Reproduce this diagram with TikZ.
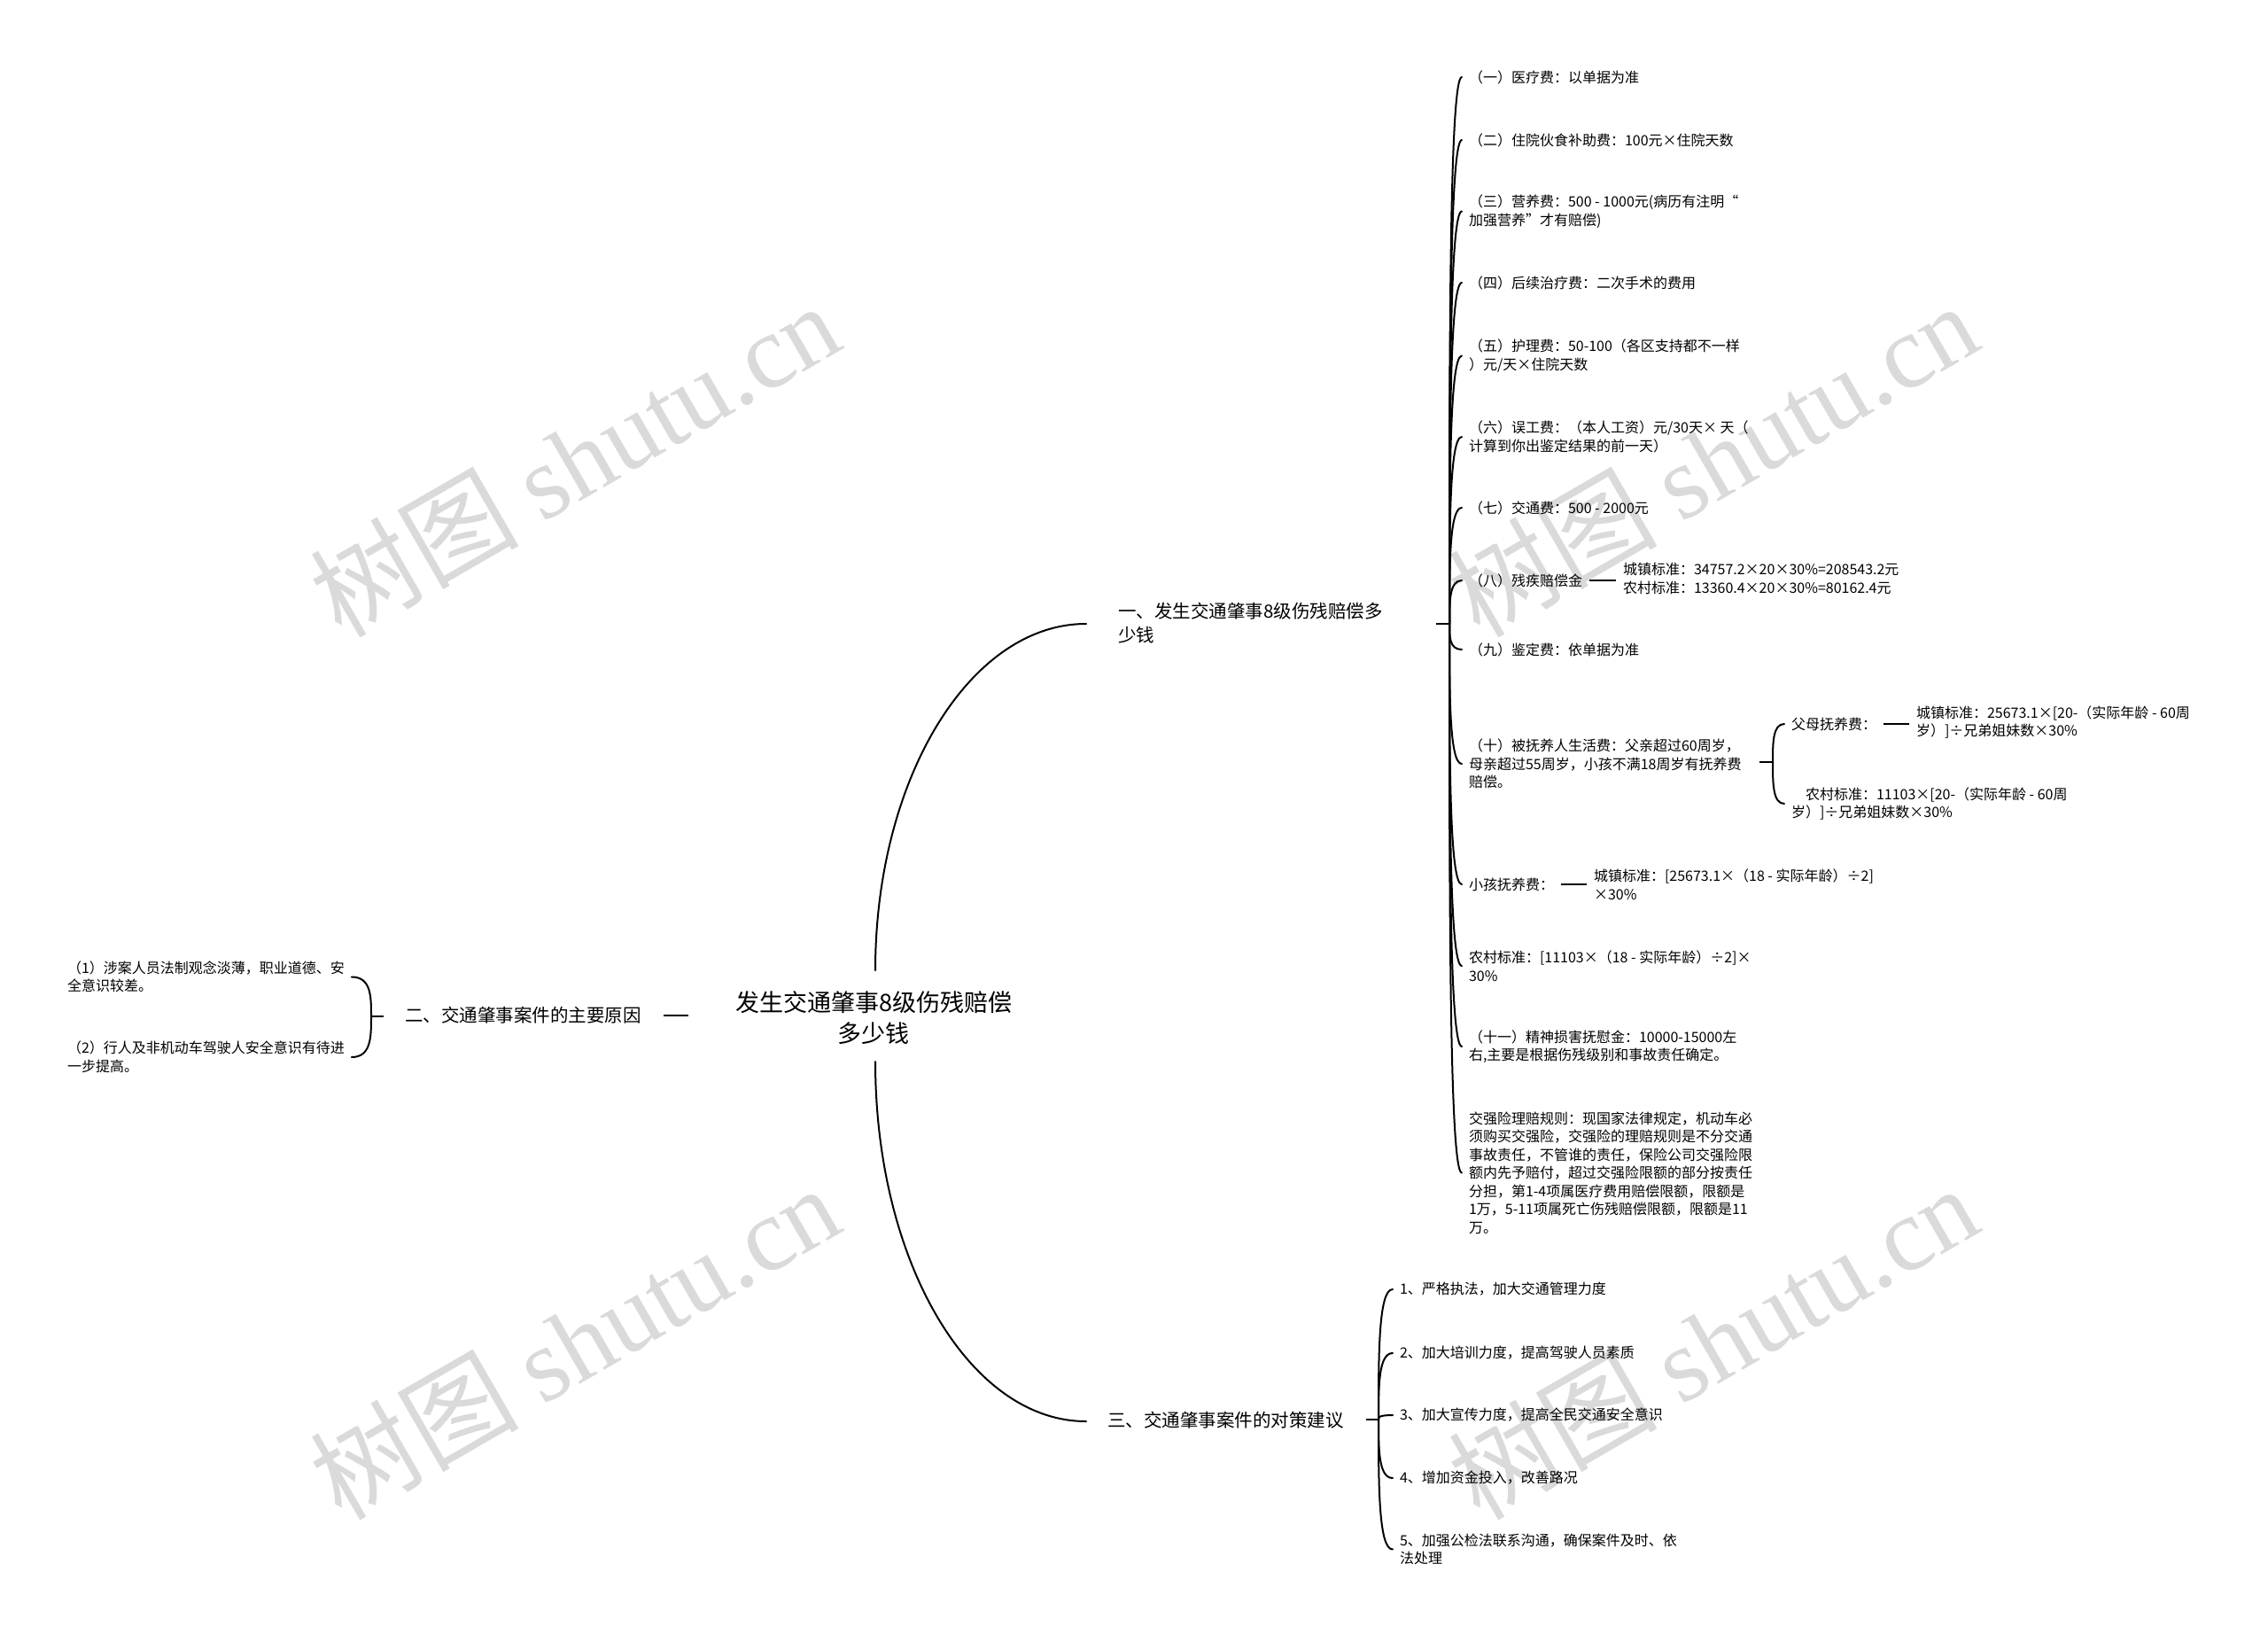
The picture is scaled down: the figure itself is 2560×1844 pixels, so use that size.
\documentclass[tikz,border=0pt]{standalone}
\usepackage{fontspec}
\setmainfont{Noto Sans CJK SC}
\newfontfamily\wmcjk{Noto Sans CJK SC}
\newfontfamily\wmserif{Liberation Serif}
\usetikzlibrary{calc}
\definecolor{wmgray}{RGB}{218,218,218}
\begin{document}
\begin{tikzpicture}[x=1pt,y=-1pt,
  leaf/.style={anchor=west, inner sep=0pt, outer xsep=8pt, outer ysep=0pt, align=left, font=\fontsize{16}{20.5}\selectfont},
  leafL/.style={leaf, anchor=west},
  brn/.style={anchor=west, inner sep=0pt, align=left, font=\fontsize{20.5}{27}\selectfont},
  root/.style={inner sep=0pt, align=center, font=\fontsize{27}{35}\selectfont},
  conn/.style={line width=2pt, line cap=round},
  tick/.style={line width=2.6pt},
  hk/.style={conn, to path={.. controls ($(\tikztostart)!0.5!(\tikztostart |- \tikztotarget)$) and (\tikztostart |- \tikztotarget) .. (\tikztotarget)}},
  wm/.style={rotate=30, text=wmgray, inner sep=0pt, font=\fontsize{118}{118}\selectfont}
]
\useasboundingbox (0,0) rectangle (2560,1844);
\fill[white] (0,0) rectangle (2560,1844);

% watermarks
\node[wm] (w1) at (648,518) {{\wmcjk 树图} {\wmserif shutu.cn}};
\node[wm] (w2) at (1933,518) {{\wmcjk 树图} {\wmserif shutu.cn}};
\node[wm] (w3) at (648,1514) {{\wmcjk 树图} {\wmserif shutu.cn}};
\node[wm] (w4) at (1933,1514) {{\wmcjk 树图} {\wmserif shutu.cn}};

% root and branches
\node[root] (c) at (986,1148.5) {发生交通肇事8级伤残赔偿\\多少钱};
\node[brn] (b1) at (1262,703.5) {一、发生交通肇事8级伤残赔偿多\\少钱};
\node[brn] (b2) at (457,1146) {二、交通肇事案件的主要原因};
\node[brn] (b3) at (1250,1603) {三、交通肇事案件的对策建议};

\coordinate (cT) at (988,1095);
\coordinate (cB) at (988,1198);
\coordinate (cL) at (777,1146);
\coordinate (b1L) at (1226,704);
\coordinate (b3L) at (1226,1604);
\coordinate (b2R) at (749,1146);
\draw[conn] (cT) .. controls (988,880) and (1094,704) .. (b1L);
\draw[conn] (cB) .. controls (988,1423) and (1094,1604) .. (b3L);
\draw[tick] (cL) -- (b2R);

% branch 1 children
\node[leaf] (n1) at (1650,87) {（一）医疗费：以单据为准};
\node[leaf] (n2) at (1650,158) {（二）住院伙食补助费：100元×住院天数};
\node[leaf] (n3) at (1650,238.5) {（三）营养费：500 - 1000元(病历有注明“\\加强营养”才有赔偿)};
\node[leaf] (n4) at (1650,319) {（四）后续治疗费：二次手术的费用};
\node[leaf] (n5) at (1650,401.5) {（五）护理费：50-100（各区支持都不一样\\）元/天×住院天数};
\node[leaf] (n6) at (1650,493) {（六）误工费：（本人工资）元/30天× 天（\\计算到你出鉴定结果的前一天）};
\node[leaf] (n7) at (1650,573) {（七）交通费：500 - 2000元};
\node[leaf] (n8) at (1650,655) {（八）残疾赔偿金};
\node[leaf] (n9) at (1650,733) {（九）鉴定费：依单据为准};
\node[leaf] (n10) at (1650,862) {（十）被抚养人生活费：父亲超过60周岁，\\母亲超过55周岁，小孩不满18周岁有抚养费\\赔偿。};
\node[leaf] (nk) at (1650,998) {小孩抚养费：};
\node[leaf] (nr) at (1650,1090) {农村标准：[11103×（18 - 实际年龄）÷2]×\\30\%};
\node[leaf] (n11) at (1650,1181) {（十一）精神损害抚慰金：10000-15000左\\右,主要是根据伤残级别和事故责任确定。};
\node[leaf] (nj) at (1650,1323.5) {交强险理赔规则：现国家法律规定，机动车必\\须购买交强险，交强险的理赔规则是不分交通\\事故责任，不管谁的责任，保险公司交强险限\\额内先予赔付，超过交强险限额的部分按责任\\分担，第1-4项属医疗费用赔偿限额，限额是\\1万，5-11项属死亡伤残赔偿限额，限额是11\\万。};

\coordinate (b1R) at (1621,704);
\coordinate (s1) at (1636,704);
\draw[tick] (b1R) -- (s1);
\foreach \n in {n1,n2,n3,n4,n5,n6,n7,n8,n9,n10,nk,nr,n11,nj}
  \draw[hk] (s1) to (\n.west);

% (八) child
\node[leaf] (n8c) at (1824,653) {城镇标准：34757.2×20×30\%=208543.2元\\农村标准：13360.4×20×30\%=80162.4元};
\draw[tick] (n8.east) -- (n8.east -| n8c.west);

% (十) children
\node[leaf] (n10a) at (2014,817) {父母抚养费：};
\node[leaf] (n10b) at (2014,907) {\hspace*{16pt}农村标准：11103×[20-（实际年龄 - 60周\\岁）]÷兄弟姐妹数×30\%};
\node[leaf] (n10ac) at (2155,815) {城镇标准：25673.1×[20-（实际年龄 - 60周\\岁）]÷兄弟姐妹数×30\%};
\coordinate (n10R) at (1986,860);
\coordinate (s10) at (2001,860);
\draw[tick] (n10R) -- (s10);
\draw[hk] (s10) to (n10a.west);
\draw[hk] (s10) to (n10b.west);
\draw[tick] (n10a.east) -- (n10a.east -| n10ac.west);

% 小孩抚养费 child
\node[leaf] (nkc) at (1791,998) {城镇标准：[25673.1×（18 - 实际年龄）÷2]\\×30\%};
\draw[tick] (nk.east) -- (nk.east -| nkc.west);

% branch 2 children
\node[leaf] (i1) at (68,1102.5) {（1）涉案人员法制观念淡薄，职业道德、安\\全意识较差。};
\node[leaf] (i2) at (68,1193) {（2）行人及非机动车驾驶人安全意识有待进\\一步提高。};
\coordinate (b2L) at (433,1147);
\coordinate (s2) at (419,1147);
\draw[tick] (b2L) -- (s2);
\draw[hk] (s2) to (i1.east);
\draw[hk] (s2) to (i2.east);

% branch 3 children
\node[leaf] (t1) at (1572,1455) {1、严格执法，加大交通管理力度};
\node[leaf] (t2) at (1572,1527) {2、加大培训力度，提高驾驶人员素质};
\node[leaf] (t3) at (1572,1597) {3、加大宣传力度，提高全民交通安全意识};
\node[leaf] (t4) at (1572,1668) {4、增加资金投入，改善路况};
\node[leaf] (t5) at (1572,1748.5) {5、加强公检法联系沟通，确保案件及时、依\\法处理};
\coordinate (b3R) at (1542,1602);
\coordinate (s3) at (1556,1602);
\draw[tick] (b3R) -- (s3);
\foreach \n in {t1,t2,t3,t4,t5}
  \draw[hk] (s3) to (\n.west);
\end{tikzpicture}
\end{document}
